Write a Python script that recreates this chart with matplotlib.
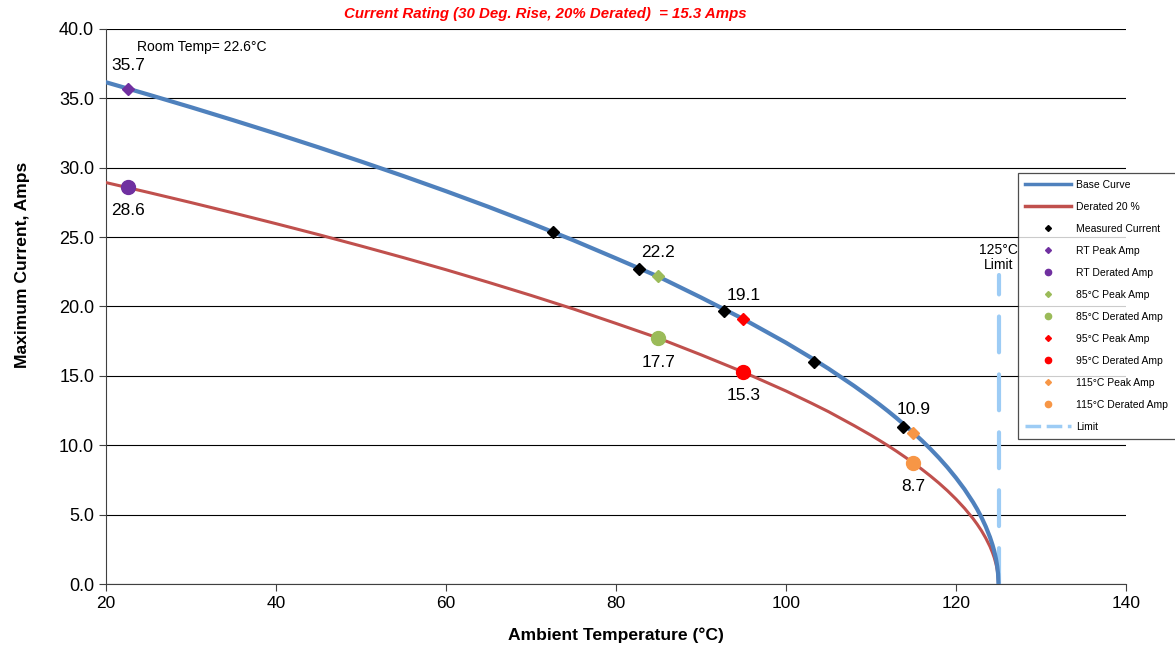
import matplotlib
matplotlib.use("Agg")
import matplotlib.pyplot as plt
from matplotlib.lines import Line2D

plt.rcParams['font.family'] = ['Liberation Sans', 'DejaVu Sans']

# Curves, values
temp = [20, 25, 30, 35, 40, 45, 50, 55, 60, 65, 70, 75, 80, 85, 90, 95,
        100, 103, 105, 108, 110, 111, 112, 113, 114, 115, 116, 117, 118, 119, 120,
        121, 122, 122.5, 123, 123.5, 124, 124.3, 124.5, 124.7, 124.85, 124.95, 125]
base_curve = [36.16, 35.27, 34.36, 33.42, 32.46, 31.47, 30.45, 29.40, 28.31, 27.18,
              26.00, 24.77, 23.47, 22.15, 20.65, 19.09,
              17.39, 16.29, 15.52, 14.28, 13.40, 12.94, 12.46, 11.96, 11.44, 10.90,
              10.33, 9.73, 9.09, 8.40, 7.65, 6.83, 5.90, 5.38, 4.80, 4.14, 3.37,
              2.81, 2.37, 1.82, 1.28, 0.73, 0]
derated_curve = [28.93, 28.22, 27.49, 26.74, 25.97, 25.18, 24.36, 23.52, 22.65, 21.74,
                 20.80, 19.82, 18.78, 17.72, 16.52, 15.27,
                 13.91, 13.03, 12.42, 11.42, 10.72, 10.35, 9.97, 9.57, 9.15, 8.72,
                 8.26, 7.78, 7.27, 6.72, 6.12, 5.46, 4.72, 4.30, 3.84, 3.31, 2.70,
                 2.25, 1.90, 1.46, 1.02, 0.58, 0]

# Measured current (black diamonds)
meas_temp = [72.6, 82.7, 92.7, 103.3, 113.8]
meas_amp = [25.4, 22.7, 19.7, 16.0, 11.3]

# Peak / derated points
pt_temp = [22.6, 85, 95, 115]
peak_amp = [35.7, 22.2, 19.1, 10.9]
derated_amp = [28.6, 17.7, 15.3, 8.7]
pt_names = ["RT", "85°C", "95°C", "115°C"]
pt_colors = ["#7030A0", "#9BBB59", "#FF0000", "#F79646"]

limit_temp = 125
limit_top = 22.3

blue = "#4F81BD"
red = "#C0504D"
limit_col = "#9DCCF5"

fig = plt.figure(figsize=(11.75, 6.51), dpi=100)
ax = fig.add_axes([0.0902, 0.1029, 0.8681, 0.8526])

ax.plot(temp, derated_curve, color=red, lw=2.2, zorder=3)
ax.plot(temp, base_curve, color=blue, lw=3.0, zorder=4)
ax.plot([limit_temp, limit_temp], [0, limit_top], color=limit_col, lw=3.0,
        linestyle=(0, (8.6, 5.3)), dash_capstyle='round', zorder=2)

ax.plot(meas_temp, meas_amp, 'D', color='black', ms=6.5, zorder=5)
for t, pk, dr, c in zip(pt_temp, peak_amp, derated_amp, pt_colors):
    ax.plot(t, pk, 'D', color=c, ms=6.5, zorder=6)
    ax.plot(t, dr, 'o', color=c, ms=10, zorder=6)
    ax.annotate(f"{pk:.1f}", (t, pk), xytext=(0, 17), textcoords='offset points',
                ha='center', va='center', fontsize=12.5)
    ax.annotate(f"{dr:.1f}", (t, dr), xytext=(0, -17), textcoords='offset points',
                ha='center', va='center', fontsize=12.5)

ax.text(23.6, 38.7, "Room Temp= 22.6°C", fontsize=10, ha='left', va='center')
ax.text(125, 22.5, "125°C\nLimit", fontsize=10, ha='center', va='bottom', linespacing=1.1)

ax.set_xlim(20, 140)
ax.set_ylim(0, 40)
ax.set_xticks(range(20, 141, 20))
ax.set_yticks(range(0, 41, 5))
ax.set_yticklabels([f"{v:.1f}" for v in range(0, 41, 5)])
ax.tick_params(length=5, direction='out', color='#404040')
ax.tick_params(axis='x', labelsize=12.5)
ax.tick_params(axis='y', labelsize=13)
ax.grid(axis='y', color='black', lw=0.8)
ax.set_axisbelow(True)
for s in ['top', 'right']:
    ax.spines[s].set_visible(False)
for s in ['left', 'bottom']:
    ax.spines[s].set_color('#404040')

ax.set_xlabel("Ambient Temperature (°C)", fontsize=12.6, fontweight='bold', labelpad=12)
ax.set_ylabel("Maximum Current, Amps", fontsize=12.6, fontweight='bold')
ax.yaxis.set_label_coords(-0.0748, 0.575)

fig.text(0.464, 0.978, "Current Rating (30 Deg. Rise, 20% Derated)  = 15.3 Amps",
         color='red', fontsize=10.8, fontweight='bold', style='italic', ha='center', va='center')

handles = [Line2D([], [], color=blue, lw=2.5),
           Line2D([], [], color=red, lw=2.5),
           Line2D([], [], marker='D', color='black', ls='none', ms=3)]
labels = ["Base Curve", "Derated 20 %", "Measured Current"]
for n, c in zip(pt_names, pt_colors):
    handles.append(Line2D([], [], marker='D', color=c, ls='none', ms=3))
    labels.append(f"{n} Peak Amp")
    handles.append(Line2D([], [], marker='o', color=c, ls='none', ms=4.5))
    labels.append(f"{n} Derated Amp")
handles.append(Line2D([], [], color=limit_col, lw=2.5, linestyle=(0, (4.5, 1.6))))
labels.append("Limit")

leg = fig.legend(handles, labels, loc='upper left', bbox_to_anchor=(0.862, 0.743),
                 fontsize=7.5, frameon=True, fancybox=False, edgecolor='#222222',
                 handlelength=4.4, labelspacing=1.15, borderpad=0.7, handletextpad=0.5)
leg.get_frame().set_linewidth(0.9)

fig.savefig("out.png", dpi=100)
